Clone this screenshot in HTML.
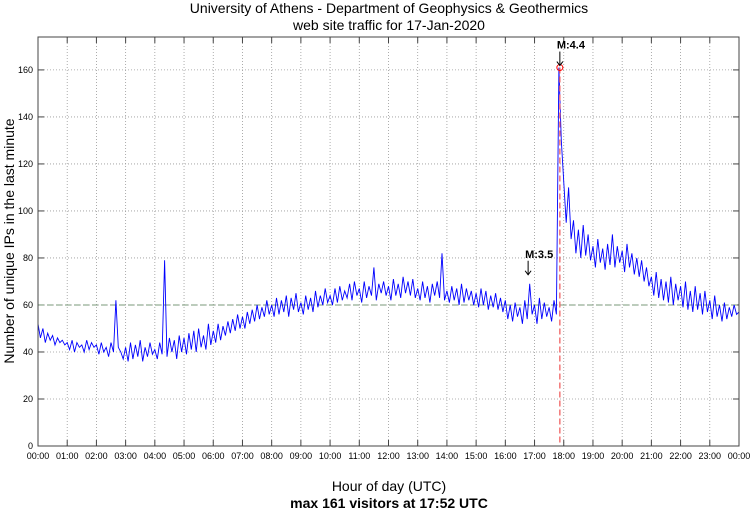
<!DOCTYPE html>
<html><head><meta charset="utf-8"><style>
body{margin:0;background:#fff;}
svg text{font-family:"Liberation Sans","DejaVu Sans",sans-serif;}
</style></head><body>
<svg id="c" width="750" height="511" xmlns="http://www.w3.org/2000/svg">
<text x="389" y="13" font-size="14" text-anchor="middle">University of Athens - Department of Geophysics &amp; Geothermics</text>
<text x="389" y="30" font-size="14" text-anchor="middle">web site traffic for 17-Jan-2020</text>
<text transform="translate(14,241) rotate(-90)" font-size="14" text-anchor="middle">Number of unique IPs in the last minute</text>
<text x="389" y="491" font-size="14" text-anchor="middle">Hour of day (UTC)</text>
<text x="389" y="508" font-size="14" text-anchor="middle" font-weight="bold">max 161 visitors at 17:52 UTC</text>
<g id="grid"></g>
<g id="marks"></g>
<rect x="38" y="37" width="701" height="409" fill="none" stroke="#444" stroke-width="1"/>
</svg>
<script>
const hours=["00:00","01:00","02:00","03:00","04:00","05:00","06:00","07:00","08:00","09:00","10:00","11:00","12:00","13:00","14:00","15:00","16:00","17:00","18:00","19:00","20:00","21:00","22:00","23:00","00:00"];
const yTicks=[0,20,40,60,80,100,120,140,160];
const visitors=[
52,46,50,44,48,45,47,43,46,44,45,43,
44,41,45,40,44,42,43,40,45,41,44,42,
43,39,44,40,42,38,44,40,62,42,40,37,
42,36,44,37,43,38,45,36,42,38,44,39,
41,37,44,39,79,38,46,40,45,37,47,40,
46,39,48,41,49,40,50,42,47,41,52,43,
49,44,52,45,51,47,53,48,54,49,56,50,
55,50,57,52,58,53,60,54,59,55,62,56,
60,55,63,56,62,57,64,55,63,58,65,57,
61,56,64,58,63,57,66,59,64,60,67,61,
64,60,67,61,68,62,66,63,69,62,70,64,
67,61,70,63,68,64,76,62,69,65,70,64,
68,62,71,64,69,63,72,65,70,64,71,63,
67,62,70,63,68,61,69,64,70,63,82,62,
66,61,68,62,67,60,69,61,67,62,66,60,
65,59,67,60,66,58,64,59,65,58,63,57,
62,54,60,53,61,55,59,52,62,54,69,56,
60,52,63,54,61,55,59,53,62,56,161,130,
112,95,110,88,96,82,92,80,94,81,90,79,
85,76,88,78,84,75,86,77,90,76,85,78,
83,74,86,76,82,73,80,72,79,70,76,68,
72,64,74,63,71,62,70,61,72,60,69,62,
68,59,70,58,66,57,68,58,65,56,66,57,
62,54,64,55,60,53,61,54,59,55,60,56,57];
const stepMin=5;
const refLevel=60;
const peakHour=17+52/60;
const peakValue=161;
const quakes=[{label:"M:3.5",hour:16.78,value:72},{label:"M:4.4",hour:17+52/60,value:161}];

const L=38,R=739,T=37,B=446,YMAX=174;
const xs=h=>L+(R-L)*h/24;
const ys=v=>B-(B-T)*v/YMAX;
const NS="http://www.w3.org/2000/svg";
function mk(tag,attrs,parent){const e=document.createElementNS(NS,tag);for(const k in attrs)e.setAttribute(k,attrs[k]);parent.appendChild(e);return e;}
const grid=document.getElementById('grid'),marks=document.getElementById('marks');
hours.forEach((lab,i)=>{
  const x=xs(i);
  if(i>0&&i<24){const g=mk('line',{x1:x,x2:x,y1:T,y2:B,stroke:'#999','stroke-dasharray':'1,2','stroke-width':0.8},grid);
  
  }
  mk('line',{x1:x,x2:x,y1:B,y2:B-6,stroke:'#444'},grid);
  mk('line',{x1:x,x2:x,y1:T,y2:T+6,stroke:'#444'},grid);
  const t=mk('text',{x:x,y:B+13,'font-size':9,'text-anchor':'middle'},grid);t.textContent=lab;
  
  
});
yTicks.forEach(v=>{
  const y=ys(v);
  if(v>0){const g=mk('line',{x1:L,x2:R,y1:y,y2:y,stroke:'#999','stroke-dasharray':'1,2','stroke-width':0.8},grid);
  
  }
  mk('line',{x1:L,x2:L+6,y1:y,y2:y,stroke:'#444'},grid);
  mk('line',{x1:R,x2:R-6,y1:y,y2:y,stroke:'#444'},grid);
  const t=mk('text',{x:L-5,y:y+3,'font-size':9,'text-anchor':'end'},grid);t.textContent=v;
  
  
});
const ref=mk('line',{x1:L,x2:R,y1:ys(refLevel),y2:ys(refLevel),stroke:'#7a9a7a','stroke-dasharray':'6,3','stroke-width':1},marks);


const pts=visitors.map((v,i)=>xs(i*stepMin/60).toFixed(1)+','+ys(v).toFixed(1)).join(' ');
const ln=mk('polyline',{points:pts,fill:'none',stroke:'#0000ff','stroke-width':0.9},marks);


const vl=mk('line',{x1:xs(peakHour),x2:xs(peakHour),y1:ys(peakValue),y2:B,stroke:'#f06060','stroke-dasharray':'6,3','stroke-width':1.3},marks);


const pc=mk('circle',{cx:xs(peakHour),cy:ys(peakValue),r:3,fill:'none',stroke:'#f00','stroke-width':1},marks);


quakes.forEach(q=>{
  const x=xs(q.hour),y=ys(q.value)-2;
  const a=mk('line',{x1:x,x2:x,y1:y-14,y2:y,stroke:'#000','stroke-width':1},marks);
  
  
  mk('path',{d:`M${x-3},${y-4} L${x},${y} L${x+3},${y-4}`,fill:'none',stroke:'#000'},marks);
  const t=mk('text',{x:x-3,y:y-17,'font-size':11,'font-weight':'bold'},marks);t.textContent=q.label;
  
  
});
</script>
</body></html>
